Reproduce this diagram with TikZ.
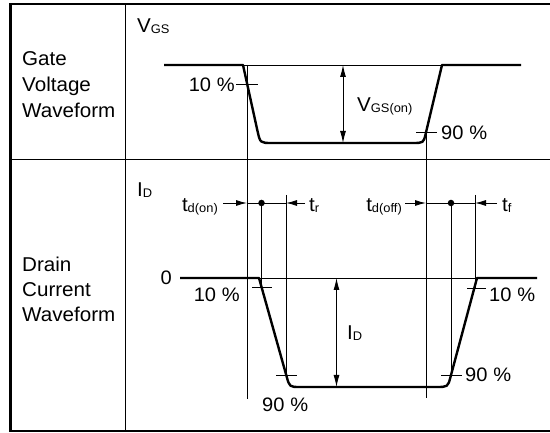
\documentclass[tikz,border=0pt]{standalone}
\usepackage{fontspec}
\setmainfont[FakeStretch=1.03]{Liberation Sans}
\usetikzlibrary{arrows.meta}
\newcommand{\sbs}[1]{{\fontsize{12.5}{12.5}\selectfont\raisebox{-1pt}{#1}}}
\newcommand{\pct}[1]{#1\hspace{0.3em}\%}
\begin{document}
\begin{tikzpicture}[x=1pt,y=-1pt,
  frame/.style={line width=2.2pt},
  thinline/.style={line width=0.9pt},
  wave/.style={line width=2.4pt, line join=round},
  dim/.style={line width=0.9pt, {Latex[length=12pt,width=6pt]}-{Latex[length=12pt,width=6pt]}},
  ptr/.style={line width=0.9pt, -{Latex[length=11pt,width=6pt]}},
  lbl/.style={inner sep=0pt, anchor=base west, font=\fontsize{20}{20}\selectfont},
  txt/.style={inner sep=0pt, font=\fontsize{19.5}{19.5}\selectfont},
  sym/.style={inner sep=0pt, font=\fontsize{20}{20}\selectfont},
  dot/.style={circle, fill, inner sep=0pt, minimum size=6.5pt}
]
\useasboundingbox (0,0) rectangle (550,433);
% frame
\draw[frame] (551,4) -- (10.5,4) -- (10.5,431) -- (551,431);
\draw[thinline] (125,4) -- (125,431);
\draw[thinline] (10.5,159) -- (551,159);
% row labels
\node[lbl] (g1) at (22,66) {Gate};
\node[lbl] (g2) at (22,92) {Voltage};
\node[lbl] (g3) at (22,118) {Waveform};
\node[lbl] (d1) at (22,271.5) {Drain};
\node[lbl] (d2) at (22,297) {Current};
\node[lbl] (d3) at (22,322) {Waveform};
% coordinates
\coordinate (gA) at (247,65);
\coordinate (gB) at (426,132);
\coordinate (t1) at (247,203);
\coordinate (t2) at (261.5,203);
\coordinate (t3) at (286,203);
\coordinate (t4) at (426,203);
\coordinate (t5) at (451,203);
\coordinate (t6) at (475,203);
% gate waveform
\draw[thinline] (243,65) -- (442,65);
\draw[wave] (164,65) -- (243,65) -- (257.5,131) .. controls (260.2,143) .. (272,143) -- (412,143) .. controls (423.4,143) .. (425.5,134.5) -- (442,65) -- (521,65);
\coordinate (vtop) at (343,65);
\coordinate (vbot) at (343,143);
\draw[dim] (vtop) -- (vbot);
% gate reference lines
\draw[thinline] (gA) -- (247,399);
\draw[thinline] (236,84) -- (258,84);
\draw[thinline] (gB) -- (426,398);
\draw[thinline] (416,132) -- (437,132);
% drain waveform
\draw[thinline] (259,278) -- (477,278);
\draw[wave] (180,278) -- (259,278) -- (286.5,376) .. controls (289.5,387) .. (300,387) -- (436,387) .. controls (447.8,387) .. (450.5,377) -- (477,278) -- (537,278);
\coordinate (itop) at (336.5,278);
\coordinate (ibot) at (336.5,387);
\draw[dim] (itop) -- (ibot);
% timing lines
\draw[thinline] (t2) -- (261.5,288);
\draw[thinline] (252,287.5) -- (272,287.5);
\draw[thinline] (286,195) -- (286,375);
\draw[thinline] (276,375) -- (297,375);
\draw[thinline] (t5) -- (451,375);
\draw[thinline] (441,375) -- (462,375);
\draw[thinline] (475,195) -- (475,288);
\draw[thinline] (467,288) -- (486,288);
\draw[thinline] (t1) -- (t3);
\draw[thinline] (t4) -- (t6);
\node[dot] (dot1) at (t2) {};
\node[dot] (dot2) at (t5) {};
\coordinate (a1) at (223,203);
\coordinate (a3) at (305,203);
\coordinate (a4) at (405,203);
\coordinate (a6) at (497,203);
\draw[ptr] (a1) -- (t1);
\draw[ptr] (a3) -- (t3);
\draw[ptr] (a4) -- (t4);
\draw[ptr] (a6) -- (t6);
% texts
\node[sym, anchor=base west] (vgs) at (137,33) {V\sbs{GS}};
\node[sym, anchor=base west] (idl) at (137,197) {I\sbs{D}};
\node[txt, anchor=base east] (p10g) at (235,92) {\pct{10}};
\node[txt, anchor=base west] (p90g) at (441,140) {\pct{90}};
\node[sym, anchor=base west] (vgson) at (357,112) {V\sbs{GS(on)}};
\node[sym, anchor=base east] (tdon) at (218,211.5) {t\sbs{d(on)}};
\node[sym, anchor=base west] (tr) at (309,211.5) {t\sbs{r}};
\node[sym, anchor=base east] (tdoff) at (402,211.5) {t\sbs{d(off)}};
\node[sym, anchor=base west] (tf) at (502,211.5) {t\sbs{f}};
\node[txt, anchor=base east] (zero) at (172,285) {0};
\node[txt, anchor=base east] (p10a) at (240,302) {\pct{10}};
\node[txt, anchor=base west] (p90a) at (262,412) {\pct{90}};
\node[txt, anchor=base west] (p10b) at (489,302) {\pct{10}};
\node[txt, anchor=base west] (p90b) at (465,382) {\pct{90}};
\node[sym, anchor=base west] (idm) at (347,340) {I\sbs{D}};
\end{tikzpicture}
\end{document}
